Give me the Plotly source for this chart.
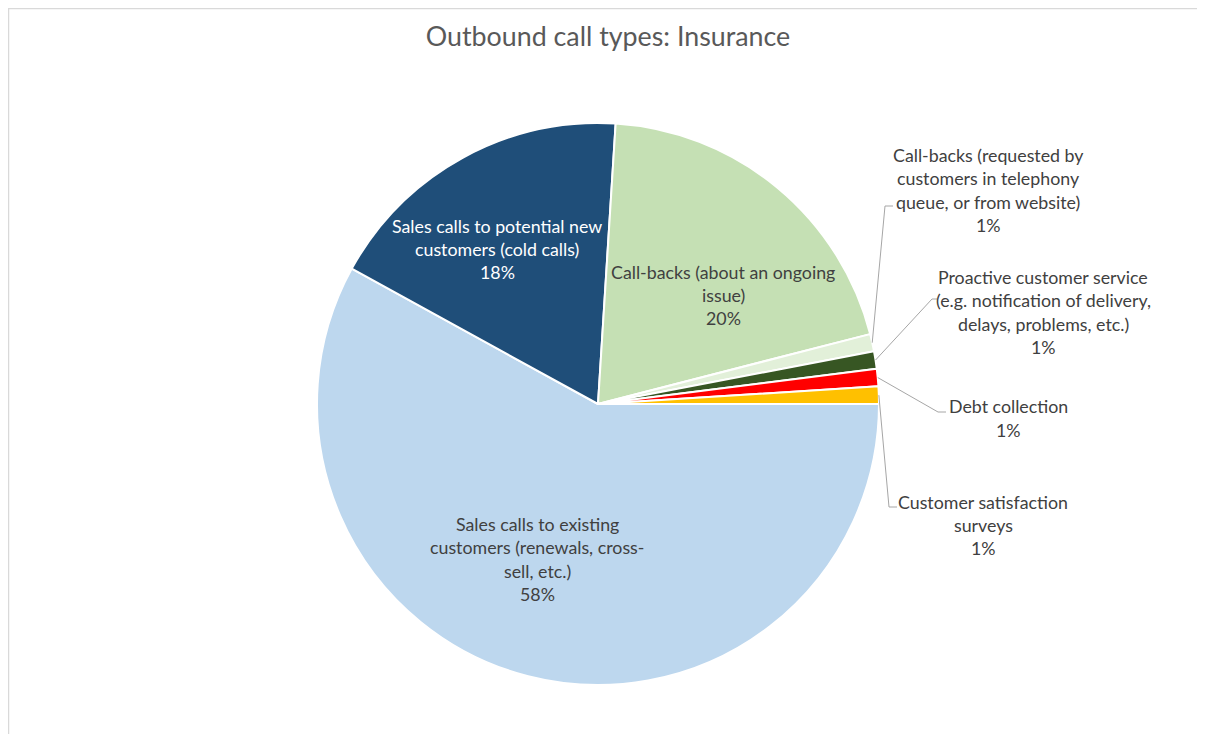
import math
import plotly.graph_objects as go

# ---------------- data ----------------
categories = [
    "Sales calls to existing customers (renewals, cross-sell, etc.)",
    "Sales calls to potential new customers (cold calls)",
    "Call-backs (about an ongoing issue)",
    "Call-backs (requested by customers in telephony queue, or from website)",
    "Proactive customer service (e.g. notification of delivery, delays, problems, etc.)",
    "Debt collection",
    "Customer satisfaction surveys",
]
values = [58, 18, 20, 1, 1, 1, 1]
label_lines = [
    ["Sales calls to existing", "customers (renewals, cross-", "sell, etc.)"],
    ["Sales calls to potential new", "customers (cold calls)"],
    ["Call-backs (about an ongoing", "issue)"],
    ["Call-backs (requested by", "customers in telephony", "queue, or from website)"],
    ["Proactive customer service", "(e.g. notification of delivery,", "delays, problems, etc.)"],
    ["Debt collection"],
    ["Customer satisfaction", "surveys"],
]
title_text = "Outbound call types: Insurance"

# ---------------- style / layout ----------------
colors = ["#BDD7EE", "#1F4E79", "#C5E0B4", "#E2F0D9", "#375623", "#FF0000", "#FFC000"]
text_colors = ["#404040", "#FFFFFF", "#404040", "#404040", "#404040", "#404040", "#404040"]
FONT = "Lato"
LABEL_SIZE = 17.8
TITLE_SIZE = 26.8
LINE_SP = 23.3

W, H = 1205, 734
OFF = 8  # page body margin
CX, CY, R = 598, 404, 281  # pie placement in screen pixels

# label block centres (screen px)
label_pos = [(537, 559), (497, 249), (723, 295), (988, 190), (1043, 312), (1008, 418), (983, 525)]
# leader knee and end points (screen px) for outside labels
leaders = [None, None, None,
           ((885, 206), (893, 206)),
           ((932, 299), (937, 299)),
           ((938, 412), (946, 412)),
           ((889, 507), (897, 507))]


def px(x):
    return (x - OFF) / W


def py(y):
    return 1 - (y - OFF) / H


total = sum(values)
pcts = [f"{round(100 * v / total)}%" for v in values]

fig = go.Figure(
    go.Pie(
        labels=categories,
        values=values,
        sort=False,
        direction="clockwise",
        rotation=90,
        marker=dict(colors=colors, line=dict(color="#FFFFFF", width=2)),
        textinfo="none",
        showlegend=False,
        domain=dict(x=[px(CX - R), px(CX + R)], y=[py(CY + R), py(CY - R)]),
        hovertemplate="%{label}<br>%{percent}<extra></extra>",
    )
)

annotations = []
shapes = []
cum = 0.0
for i, v in enumerate(values):
    lines = label_lines[i] + [pcts[i]]
    n = len(lines)
    xc, yc = label_pos[i]
    for k, t in enumerate(lines):
        yk = yc + (k - (n - 1) / 2) * LINE_SP
        annotations.append(dict(
            x=px(xc), y=py(yk), xref="paper", yref="paper", text=t, showarrow=False,
            xanchor="center", yanchor="middle",
            font=dict(family=FONT, size=LABEL_SIZE, color=text_colors[i]),
        ))
    mid = math.radians((cum + v / 2) / total * 360)
    cum += v
    if leaders[i] is not None:
        sx = CX + R * math.cos(mid)
        sy = CY + R * math.sin(mid)
        (kx, ky), (ex, ey) = leaders[i]
        shapes.append(dict(
            type="path", xref="paper", yref="paper",
            path=f"M {px(sx)},{py(sy)} L {px(kx)},{py(ky)} L {px(ex)},{py(ey)}",
            line=dict(color="#A6A6A6", width=1),
        ))

# chart-area border
shapes.append(dict(type="rect", xref="paper", yref="paper",
                   x0=px(8.5), y0=py(760), x1=px(1230), y1=py(8.5),
                   line=dict(color="#D9D9D9", width=1.5), fillcolor="rgba(0,0,0,0)"))

fig.update_layout(
    width=W, height=H,
    margin=dict(l=0, r=0, t=0, b=0),
    paper_bgcolor="#FFFFFF", plot_bgcolor="#FFFFFF",
    title=dict(text=title_text, x=px(608), y=py(37), xanchor="center", yanchor="middle",
               font=dict(family=FONT, size=TITLE_SIZE, color="#595959")),
    annotations=annotations,
    shapes=shapes,
)

fig.write_html("out.html")
